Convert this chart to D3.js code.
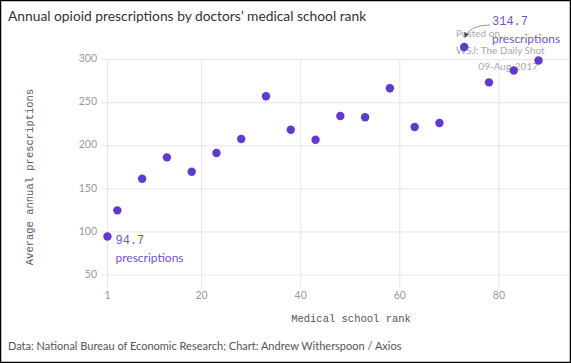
<!DOCTYPE html>
<html>
<head>
<meta charset="utf-8">
<script src="https://cdn.jsdelivr.net/npm/d3@7"></script>
<style>
body { margin: 0; background: #fff; }
svg { display: block; }
</style>
</head>
<body>
<svg width="571" height="363"></svg>
<script>
// school rank buckets and average prescriptions
let ranks = [1, 3, 8, 13, 18, 23, 28, 33, 38, 43, 48, 53, 58, 63, 68, 73, 78, 83, 88]
let prescriptions = [94.7, 125.1, 161.8, 186.6, 169.9, 191.6, 207.9, 257.5, 218.7, 207.1, 234.6, 233.1, 266.8, 221.8, 226.5, 314.7, 273.7, 287.4, 299.0]
let xTicks = [1, 20, 40, 60, 80]
let yTicks = [50, 100, 150, 200, 250, 300]

let svg = d3.select("svg")
let purple = "#6038d4"
let sans = "Lato, 'Open Sans', sans-serif"
let mono = "'Liberation Mono', 'DejaVu Sans Mono', monospace"

svg.append("rect").attr("x", 0.5).attr("y", 0.5).attr("width", 570).attr("height", 362)
    .attr("style", "fill: #fff; stroke: #000; stroke-width: 1.5")

let x = d3.scaleLinear().domain([0, 80]).range([102.5, 498.9])
let y = d3.scaleLinear().domain([0, 300]).range([318.1, 59.7])

// grid
svg.append("g").selectAll("line").data(yTicks).join("line")
    .attr("x1", 101).attr("x2", 569)
    .attr("y1", d => y(d)).attr("y2", d => y(d))
    .attr("style", "stroke: #e6e6e6; stroke-width: 1")
svg.append("g").selectAll("line").data(xTicks).join("line")
    .attr("x1", d => x(d)).attr("x2", d => x(d))
    .attr("y1", y(300)).attr("y2", 288)
    .attr("style", "stroke: #e6e6e6; stroke-width: 1")

svg.append("g").selectAll("text").data(yTicks).join("text")
    .attr("x", 97).attr("y", d => y(d))
    .attr("text-anchor", "end").attr("dominant-baseline", "middle")
    .attr("font-family", sans).attr("font-size", "10.5px").attr("fill", "#999")
    .text(d => d)
svg.append("g").selectAll("text").data(xTicks).join("text")
    .attr("x", d => x(d)).attr("y", 296)
    .attr("text-anchor", "middle").attr("dominant-baseline", "middle")
    .attr("font-family", sans).attr("font-size", "10.5px").attr("fill", "#999")
    .text(d => d)

// axis titles
svg.append("text").attr("x", 351).attr("y", 319)
    .attr("text-anchor", "middle").attr("dominant-baseline", "middle")
    .attr("font-family", mono).attr("font-size", "10.5px").attr("fill", "#555")
    .text("Medical school rank")
svg.append("text").attr("transform", "translate(30,177) rotate(-90)")
    .attr("text-anchor", "middle").attr("dominant-baseline", "middle")
    .attr("font-family", mono).attr("font-size", "10.5px").attr("fill", "#555")
    .text("Average annual prescriptions")

// watermark
let wm = svg.append("g").attr("font-family", sans).attr("font-size", "10px").attr("fill", "#aaa")
wm.append("text").attr("x", 456).attr("y", 34).attr("dominant-baseline", "middle").text("Posted on")
wm.append("text").attr("x", 456).attr("y", 51).attr("dominant-baseline", "middle").text("WSJ: The Daily Shot")
wm.append("text").attr("x", 538).attr("y", 67).attr("text-anchor", "end").attr("dominant-baseline", "middle").text("09-Aug-2017")

// dots
svg.append("g").selectAll("circle").data(ranks).join("circle")
    .attr("cx", d => x(d)).attr("cy", (d, i) => y(prescriptions[i]))
    .attr("r", 4.2).attr("fill", purple)

// annotations
let lo = 0, hi = prescriptions.indexOf(d3.max(prescriptions))
svg.append("text").attr("x", x(ranks[lo]) + 8).attr("y", y(prescriptions[lo]) + 4)
    .attr("dominant-baseline", "middle")
    .attr("font-family", mono).attr("font-size", "12px").attr("fill", "#7352dc")
    .text(prescriptions[lo])
svg.append("text").attr("x", x(ranks[lo]) + 8).attr("y", y(prescriptions[lo]) + 22)
    .attr("dominant-baseline", "middle")
    .attr("font-family", sans).attr("font-size", "12px").attr("fill", "#7352dc")
    .text("prescriptions")
svg.append("text").attr("x", 492).attr("y", 22)
    .attr("dominant-baseline", "middle")
    .attr("font-family", mono).attr("font-size", "12px").attr("fill", "#7352dc")
    .text(prescriptions[hi])
svg.append("text").attr("x", 492).attr("y", 40)
    .attr("dominant-baseline", "middle")
    .attr("font-family", sans).attr("font-size", "12px").attr("fill", "#7352dc")
    .text("prescriptions")

svg.append("defs").append("marker").attr("id", "arr")
    .attr("viewBox", "0 0 10 10").attr("refX", 8).attr("refY", 5)
    .attr("markerWidth", 5).attr("markerHeight", 5).attr("orient", "auto")
    .append("path").attr("d", "M0,0 L10,5 L0,10 z").attr("fill", "#444")
svg.append("path").attr("d", "M490,25 Q470,25 465,37")
    .attr("style", "fill: none; stroke: #999; stroke-width: 1")
    .attr("marker-end", "url(#arr)")

// title and source
svg.append("text").attr("x", 8).attr("y", 17)
    .attr("dominant-baseline", "middle")
    .attr("font-family", sans).attr("font-size", "13.8px").attr("fill", "#333")
    .text("Annual opioid prescriptions by doctors\u2019 medical school rank")
svg.append("text").attr("x", 8).attr("y", 347)
    .attr("dominant-baseline", "middle")
    .attr("font-family", sans).attr("font-size", "11px").attr("fill", "#555")
    .text("Data: National Bureau of Economic Research; Chart: Andrew Witherspoon / Axios")
</script>
</body>
</html>
